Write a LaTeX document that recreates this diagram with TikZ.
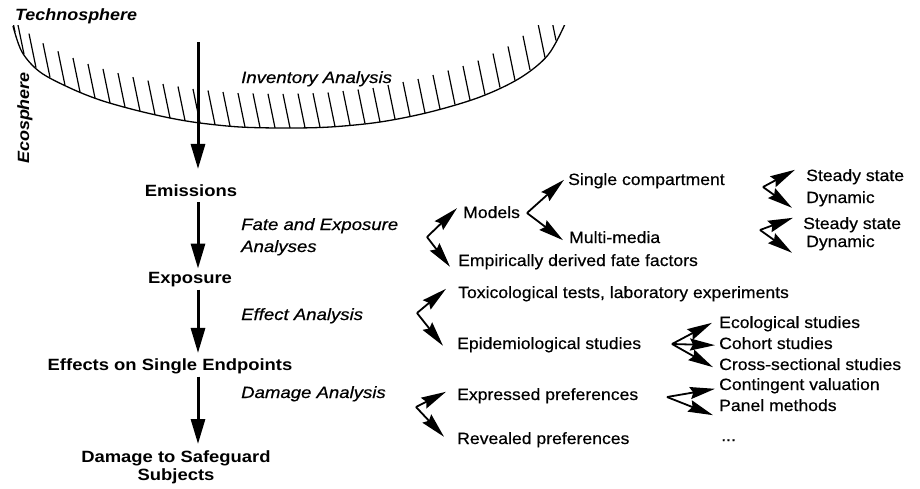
\documentclass[tikz,border=0pt]{standalone}
\usepackage{fontspec}
\setmainfont{Liberation Sans}[
  UprightFeatures={FakeStretch=1.08, FakeBold=0.5},
  BoldFeatures={FakeStretch=1.13},
  ItalicFeatures={FakeStretch=1.14, FakeBold=0.5},
  BoldItalicFeatures={FakeStretch=1.10}]
\usetikzlibrary{arrows.meta}

\begin{document}
\begin{tikzpicture}[x=1pt,y=-1pt,
  every node/.style={font=\fontsize{16.3}{18.5}\selectfont, inner sep=2pt},
  item/.style={anchor=base west},
  stage/.style={anchor=base, font=\fontsize{16.3}{18}\selectfont\bfseries},
  method/.style={anchor=base west, font=\fontsize{16.3}{18.5}\selectfont\itshape},
  sphere/.style={font=\fontsize{16.3}{18.5}\selectfont\bfseries\itshape},
  flow/.style={line width=3pt, -{Triangle[length=25pt,width=14pt]}},
  branch/.style={line width=1.8pt, -{Stealth[length=25pt,width=12pt,inset=3pt]}},
  hatchline/.style={line width=1.2pt}]

\useasboundingbox (0,0) rectangle (920,488);

% boundary between technosphere and ecosphere, hatched on the technosphere side
\begin{scope}
  \clip (0,25) rectangle (920,488);
  \draw[line width=1.3pt]
    plot[smooth, tension=0.55] coordinates {(13,26) (22,52) (40,72) (70,88) (100,100)
      (135,110) (170,118) (200,123) (240,127) (285,128) (330,127) (380,122)
      (430,112) (480,97) (520,78) (548,55) (565,24)};
  \foreach \hx/\hy in {15/32, 24/54.2, 36/67.6, 50/77.3, 65/85.3, 80/92, 95/98,
      110/102.9, 125/107.1, 140/111.1, 155/114.6, 170/118, 185/120.5, 200/123,
      215/124.5, 230/126, 245/127.1, 260/127.4, 275/127.8, 290/127.9, 305/127.6,
      320/127.2, 335/126.5, 350/125, 365/123.5, 380/122, 395/119, 410/116,
      425/113, 440/109, 455/104.5, 470/100, 485/94.6, 500/87.5, 515/80.4,
      530/69.8, 545/57.5, 556/40.4}
    \draw[hatchline] (\hx,\hy) -- ++(-7,-34);
\end{scope}

\node[sphere, anchor=base west] (techno) at (13,20) {Technosphere};
\node[sphere, rotate=90] (eco) at (25,118) {Ecosphere};

% main chain
\coordinate (src) at (198,42);
\node[stage] (emis) at (191,196) {Emissions};
\node[stage] (expo) at (190,283) {Exposure};
\node[stage] (eff) at (170,370) {Effects on Single Endpoints};
\node[stage, anchor=north, align=center] (dmg) at (176,448) {Damage to Safeguard\\Subjects};

\draw[flow, shorten >=13pt] (src) -- (emis.north -| src);
\draw[flow, shorten <=4pt, shorten >=1pt] (emis.south -| src) -- (expo.north -| src);
\draw[flow, shorten <=1pt, shorten >=3pt] (expo.south -| src) -- (eff.north -| src);
\draw[flow, shorten <=1pt, shorten >=4pt] (eff.south -| src) -- (dmg.north -| src);

% analysis steps
\node[method] (inv) at (239,83) {Inventory Analysis};
\node[method] (fate1) at (239,230) {Fate and Exposure};
\node[method] (fate2) at (239,252) {Analyses};
\node[method] (effa) at (239,320) {Effect Analysis};
\node[method] (dmga) at (239,398) {Damage Analysis};

% fate and exposure methods
\node[item] (models) at (461,218) {Models};
\node[item] (single) at (566,185) {Single compartment};
\node[item] (multi) at (567,243) {Multi-media};
\node[item] (ss1) at (804,181) {Steady state};
\node[item] (dyn1) at (804,203) {Dynamic};
\node[item] (ss2) at (801,229) {Steady state};
\node[item] (dyn2) at (804,247) {Dynamic};
\node[item] (empir) at (456,266) {Empirically derived fate factors};

% effect methods
\node[item] (tox) at (456,298) {Toxicological tests, laboratory experiments};
\node[item] (epid) at (455,349) {Epidemiological studies};
\node[item] (ecol) at (717,328) {Ecological studies};
\node[item] (cohort) at (717,349) {Cohort studies};
\node[item] (cross) at (717,370) {Cross-sectional studies};

% damage methods
\node[item] (expr) at (455,400) {Expressed preferences};
\node[item] (reve) at (455,444) {Revealed preferences};
\node[item] (contin) at (717,390) {Contingent valuation};
\node[item] (panel) at (717,411) {Panel methods};
\node[item] (more) at (719,441) {...};

% branching points
\coordinate (fA) at (427,237);
\coordinate (fB) at (527,213);
\coordinate (fC) at (763,187);
\coordinate (fD) at (760,230);
\coordinate (fE) at (417,313);
\coordinate (fF) at (672,344);
\coordinate (fG) at (667,397);
\coordinate (fH) at (416,407);

\draw[branch] (fA) -- ([xshift=-4pt,yshift=4pt]models.west);
\draw[branch] (fA) -- ([xshift=-6pt,yshift=-5pt]empir.west);
\draw[branch] (fB) -- ([xshift=-2pt,yshift=1pt]single.west);
\draw[branch] (fB) -- ([xshift=-4pt,yshift=-3pt]multi.west);
\draw[branch] (fC) -- ([xshift=-9pt,yshift=7pt]ss1.west);
\draw[branch] (fC) -- ([xshift=-12pt,yshift=-9pt]dyn1.west);
\draw[branch] (fD) -- ([xshift=-8pt,yshift=7pt]ss2.west);
\draw[branch] (fD) -- ([xshift=-12pt,yshift=-10pt]dyn2.west);
\draw[branch] (fE) -- ([xshift=-10pt,yshift=5pt]tox.west);
\draw[branch] (fE) -- ([xshift=-12pt,yshift=-1pt]epid.west);
\draw[branch] (fF) -- ([xshift=-5pt,yshift=1pt]ecol.west);
\draw[branch] (fF) -- ([xshift=-2pt,yshift=-2pt]cohort.west);
\draw[branch] (fF) -- ([xshift=-4pt,yshift=-3pt]cross.west);
\draw[branch] (fG) -- ([xshift=-2pt,yshift=-3pt]contin.west);
\draw[branch] (fG) -- ([xshift=-4pt,yshift=-10pt]panel.west);
\draw[branch] (fH) -- ([xshift=-9pt,yshift=4pt]expr.west);
\draw[branch] (fH) -- ([xshift=-11pt,yshift=3pt]reve.west);
\end{tikzpicture}
\end{document}
